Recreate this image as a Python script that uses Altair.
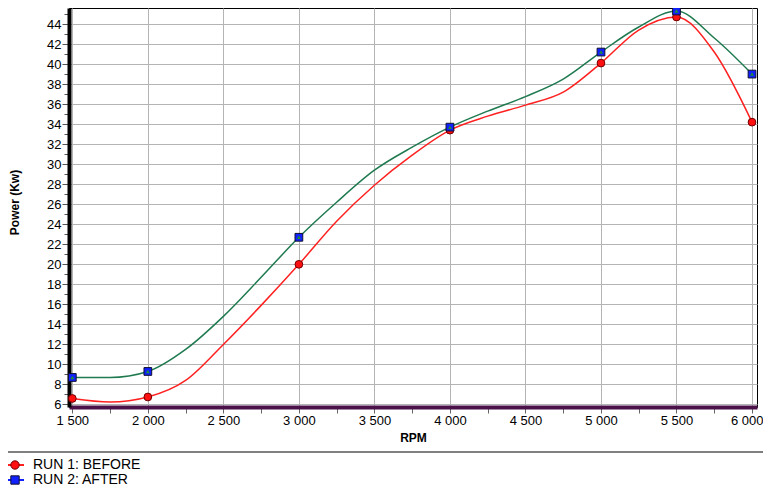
import altair as alt
import pandas as pd

# ---- data ----
series_names = ["RUN 1: BEFORE", "RUN 2: AFTER"]

rpm_curve = [1500, 1750, 2000, 2250, 2500, 2750, 3000, 3250, 3500, 3750,
             4000, 4250, 4500, 4750, 5000, 5250, 5500, 5750, 6000]
run1_curve = [6.6, 6.25, 6.75, 8.4, 12.0, 15.9, 20.0, 24.3, 27.9, 30.9,
              33.4, 34.8, 35.9, 37.2, 40.1, 43.4, 44.7, 41.2, 34.2]
run2_curve = [8.7, 8.7, 9.3, 11.5, 14.8, 18.7, 22.7, 26.2, 29.4, 31.7,
              33.7, 35.3, 36.75, 38.5, 41.2, 43.7, 45.3, 42.6, 39.0]

rpm_pts = [1500, 2000, 3000, 4000, 5000, 5500, 6000]
run1_pts = [6.6, 6.75, 20.0, 33.4, 40.1, 44.7, 34.2]
run2_pts = [8.7, 9.3, 22.7, 33.7, 41.2, 45.3, 39.0]

x_ticks = list(range(1500, 6001, 250))
y_ticks = list(range(6, 46))

line_colors = ["#ff2020", "#1f7a50"]
fill_colors = ["#ff1010", "#1020ff"]
edge_colors = ["#700000", "#101030"]
legend_line_colors = ["#ff2020", "#1020ff"]
shapes = ["circle", "square"]

curve_df = pd.DataFrame({
    "rpm": rpm_curve * 2,
    "power": run1_curve + run2_curve,
    "series": [series_names[0]] * len(rpm_curve) + [series_names[1]] * len(rpm_curve),
})
pts_df = pd.DataFrame({
    "rpm": rpm_pts * 2,
    "power": run1_pts + run2_pts,
    "series": [series_names[0]] * len(rpm_pts) + [series_names[1]] * len(rpm_pts),
})
run2_df = pd.DataFrame({"rpm": rpm_pts, "power": run2_pts})

FONT = "Liberation Sans"

x_axis = alt.Axis(
    values=x_ticks,
    labelExpr="datum.value % 500 === 0 ? replace(format(datum.value, ','), ',', ' ') : ''",
    title="RPM", titleFontWeight="bold", titleFontSize=12, titleFont=FONT,
    titleY=30, titleBaseline="middle",
    labelFont=FONT, labelFontSize=13, labelColor="black", labelPadding=1,
    labelFlush=False,
    labelAlign={"condition": {"test": "datum.value === 6000", "value": "right"}, "value": "center"},
    labelOffset={"condition": {"test": "datum.value === 6000", "value": 11}, "value": 0},
    domainColor="#4a1248", domainWidth=4,
    tickColor="#666666", tickSize=6,
    grid=True, gridColor="#b4b4b4", gridWidth=1,
    gridOpacity={"condition": {"test": "datum.value % 500 === 0", "value": 1}, "value": 0},
)
y_axis = alt.Axis(
    values=y_ticks,
    labelExpr="datum.value % 2 === 0 ? datum.value : ''",
    title="Power (Kw)", titleFontWeight="bold", titleFontSize=12, titleFont=FONT,
    titleX=-55, titleY=194, titleAngle=270, titleAlign="center", titleBaseline="middle",
    labelFont=FONT, labelFontSize=13, labelColor="black", labelPadding=1,
    domainColor="black", domainWidth=4,
    tickColor="#555555",
    tickSize={"condition": {"test": "datum.value % 2 === 0", "value": 7}, "value": 5},
    grid=True, gridColor="#b4b4b4", gridWidth=1,
    gridOpacity={"condition": {"test": "datum.value % 2 === 0", "value": 1}, "value": 0},
)

x_enc = alt.X("rpm:Q", scale=alt.Scale(domain=[1478, 6033], nice=False, zero=False), axis=x_axis)
y_enc = alt.Y("power:Q", scale=alt.Scale(domain=[5.75, 45.6], nice=False, zero=False), axis=y_axis)

lines = alt.Chart(curve_df).mark_line(interpolate="monotone", strokeWidth=1.5).encode(
    x=x_enc, y=y_enc,
    color=alt.Color("series:N", scale=alt.Scale(domain=series_names, range=line_colors), legend=None),
    detail="series:N",
)

markers = alt.Chart(pts_df).mark_point(filled=True, size=60, strokeWidth=1, opacity=1).encode(
    x=x_enc, y=y_enc,
    fill=alt.Fill("series:N", scale=alt.Scale(domain=series_names, range=fill_colors), legend=None),
    stroke=alt.Stroke("series:N", scale=alt.Scale(domain=series_names, range=edge_colors), legend=None),
    shape=alt.Shape("series:N", scale=alt.Scale(domain=series_names, range=shapes), legend=None),
)

triangles = alt.Chart(run2_df).mark_point(shape="triangle-up", filled=True, size=16, color="#1e8a3a", opacity=1).encode(
    x=x_enc, y=y_enc,
)

one = pd.DataFrame({"k": [0]})
separator = alt.Chart(one).mark_rule(color="black", strokeWidth=1).encode(
    x=alt.value(-61), x2=alt.value(694), y=alt.value(444),
)

# legend below the separator (line + symbol + label per run)
legend_layers = []
for i, name in enumerate(series_names):
    row_y = 457 + 15 * i
    legend_layers.append(
        alt.Chart(one).mark_rule(color=legend_line_colors[i], strokeWidth=2).encode(
            x=alt.value(-63), x2=alt.value(-45), y=alt.value(row_y)))
    legend_layers.append(
        alt.Chart(one).mark_point(shape=shapes[i], filled=True, size=70, fill=fill_colors[i],
                                  stroke=edge_colors[i], strokeWidth=1, opacity=1).encode(
            x=alt.value(-54), y=alt.value(row_y)))
    legend_layers.append(
        alt.Chart(one).mark_text(text=name, align="left", baseline="middle", font=FONT,
                                 fontSize=14, color="black").encode(
            x=alt.value(-36), y=alt.value(row_y)))

chart = alt.layer(lines, markers, triangles, separator, *legend_layers).properties(
    width=688, height=399,
    autosize=alt.AutoSizeParams(type="none"),
    padding={"left": 61, "top": 0, "right": 6, "bottom": 79},
    background="white",
).configure_view(stroke="black", strokeWidth=1)

chart.save("out.html", embed_options={"renderer": "svg", "actions": False})
